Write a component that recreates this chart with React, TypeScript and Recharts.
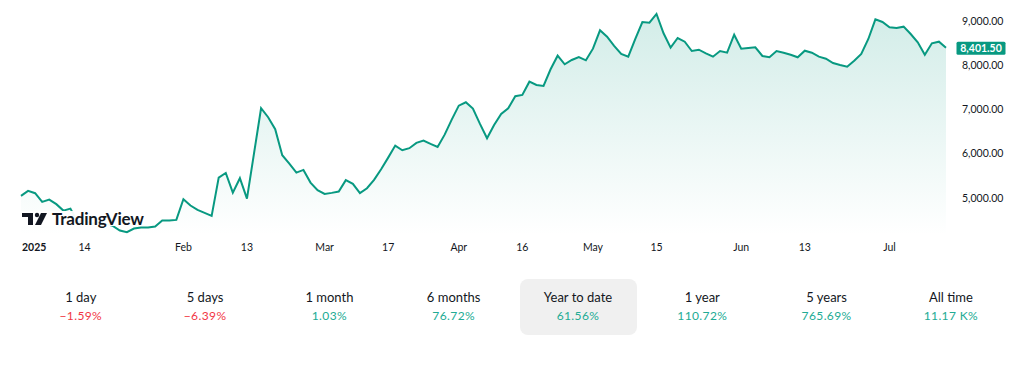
import React from 'react';
import { AreaChart, Area, XAxis, YAxis, ReferenceLine } from 'recharts';

const prices = [
  5038, 5151, 5099, 4902, 4954, 4850, 4704, 4750, 4448, 4480,
  4400, 4450, 4400, 4357, 4251, 4215, 4296, 4319, 4319, 4342,
  4478, 4478, 4493, 4963, 4818, 4720, 4652, 4584, 5453, 5559,
  5113, 5439, 4977, 6002, 7027, 6823, 6551, 5961, 5770, 5566,
  5627, 5339, 5167, 5083, 5106, 5135, 5394, 5310, 5099, 5212,
  5401, 5643, 5906, 6179, 6074, 6120, 6240, 6292, 6217, 6149,
  6428, 6768, 7086, 7163, 7018, 6671, 6346, 6648, 6898, 7027,
  7299, 7329, 7630, 7555, 7533, 7911, 8220, 8025, 8122, 8190,
  8115, 8379, 8796, 8651, 8440, 8258, 8197, 8599, 8984, 8968,
  9166, 8728, 8401, 8621, 8537, 8326, 8356, 8274, 8197, 8326,
  8288, 8696, 8379, 8394, 8410, 8213, 8184, 8326, 8288, 8242,
  8184, 8333, 8288, 8197, 8152, 8054, 8009, 7970, 8106, 8258,
  8599, 9045, 8984, 8864, 8848, 8878, 8712, 8524, 8242, 8501,
  8537, 8401.5,
];

const tickIndices = [0, 9, 23, 32, 43, 52, 62, 71, 81, 90, 102, 111, 123];
const tickLabels = ['2025', '14', 'Feb', '13', 'Mar', '17', 'Apr', '16', 'May', '15', 'Jun', '13', 'Jul'];
const yTicks = [5000, 6000, 7000, 8000, 9000];
const lastPrice = 8401.5;

const periodLabels = ['1 day', '5 days', '1 month', '6 months', 'Year to date', '1 year', '5 years', 'All time'];
const periodChanges = ['\u22121.59%', '\u22126.39%', '1.03%', '76.72%', '61.56%', '110.72%', '765.69%', '11.17\u202FK%'];
const periodPositive = [false, false, true, true, true, true, true, true];
const selectedPeriod = 4;

const data = prices.map((p, i) => ({ i, price: p }));

const FONT = "Lato, 'Open Sans', sans-serif";
const GREEN = '#089981';
const TEXT = '#131722';

const fmt = (v: number) =>
  v.toLocaleString('en-US', { minimumFractionDigits: 2, maximumFractionDigits: 2 });

const XTick = (props: any) => {
  const { x, y, payload } = props;
  const idx = tickIndices.indexOf(payload.value);
  const label = tickLabels[idx] ?? '';
  const first = idx === 0;
  return (
    <text
      x={first ? x + 1 : x}
      y={y}
      dy={8}
      textAnchor={first ? 'start' : 'middle'}
      fill={TEXT}
      fontSize={10.5}
      fontWeight={first ? 700 : 400}
      fontFamily={FONT}
    >
      {label}
    </text>
  );
};

const YTick = (props: any) => {
  const { x, y, payload } = props;
  return (
    <text x={x} y={y} dy={4} textAnchor="start" fill={TEXT} fontSize={10.5} fontFamily={FONT}>
      {fmt(payload.value)}
    </text>
  );
};

const PriceBadge = (props: any) => {
  const vb = props.viewBox || {};
  const bx = vb.x + vb.width + 10.5;
  const by = vb.y;
  return (
    <g>
      <rect x={bx} y={by - 6} width={49} height={13} fill={GREEN} rx={1.5} />
      <text x={bx + 24.5} y={by + 4} textAnchor="middle" fill="#ffffff" fontSize={10.5} fontWeight={700} fontFamily={FONT}>
        {fmt(lastPrice)}
      </text>
    </g>
  );
};

const Logo = () => (
  <div
    style={{
      position: 'absolute',
      left: 20,
      top: 211,
      width: 127,
      height: 15,
      background: 'rgba(255,255,255,0.95)',
      display: 'flex',
      alignItems: 'center',
    }}
  >
    <svg width={28} height={14} style={{ marginLeft: 2 }}>
      <rect x={0} y={1} width={11} height={4} fill={TEXT} />
      <rect x={6} y={1} width={5} height={12} fill={TEXT} />
      <circle cx={15} cy={3} r={2.2} fill={TEXT} />
      <polygon points="19,1 25,1 19,13 13,13" fill={TEXT} />
    </svg>
    <span
      style={{
        fontFamily: FONT,
        fontSize: 17,
        fontWeight: 700,
        color: TEXT,
        marginLeft: 2,
        letterSpacing: -0.2,
        lineHeight: '15px',
      }}
    >
      TradingView
    </span>
  </div>
);

export default function App() {
  return (
    <div style={{ position: 'absolute', left: 0, top: 0, width: 1024, height: 377, background: '#fff', fontFamily: FONT }}>
      <AreaChart
        width={1024}
        height={260}
        data={data}
        margin={{ top: 5, right: 0, bottom: 0, left: 21 }}
      >
        <defs>
          <linearGradient id="areaFill" x1="0" y1="0" x2="0" y2="1">
            <stop offset="0%" stopColor={GREEN} stopOpacity={0.3} />
            <stop offset="100%" stopColor={GREEN} stopOpacity={0.0} />
          </linearGradient>
        </defs>
        <XAxis
          dataKey="i"
          type="number"
          domain={[0, prices.length - 1]}
          ticks={tickIndices}
          tick={<XTick />}
          tickLine={false}
          axisLine={false}
          height={25}
          interval={0}
        />
        <YAxis
          orientation="right"
          domain={[4150, 9370]}
          ticks={yTicks}
          tick={<YTick />}
          tickLine={false}
          axisLine={false}
          width={78}
          tickMargin={10}
        />
        <Area
          type="linear"
          dataKey="price"
          stroke={GREEN}
          strokeWidth={2}
          fill="url(#areaFill)"
          isAnimationActive={false}
          dot={false}
          activeDot={false}
        />
        <ReferenceLine y={lastPrice} stroke="none" label={<PriceBadge />} />
      </AreaChart>
      <Logo />
      {periodLabels.map((lab, k) => {
        const cx = 80.8 + k * 124.3;
        const sel = k === selectedPeriod;
        return (
          <div
            key={lab}
            style={{
              position: 'absolute',
              left: cx - 58.5,
              top: 279,
              width: 117,
              height: 56,
              borderRadius: 8,
              background: sel ? '#f0f0f0' : 'transparent',
              textAlign: 'center',
            }}
          >
            <div style={{ position: 'absolute', left: 0, right: 0, top: 10, fontSize: 13, color: TEXT, lineHeight: '16px' }}>
              {lab}
            </div>
            <div
              style={{
                position: 'absolute',
                left: 0,
                right: 0,
                top: 29,
                fontSize: 12,
                lineHeight: '16px',
                letterSpacing: 0.4,
                color: periodPositive[k] ? '#22ab94' : '#f23645',
              }}
            >
              {periodChanges[k]}
            </div>
          </div>
        );
      })}
    </div>
  );
}
